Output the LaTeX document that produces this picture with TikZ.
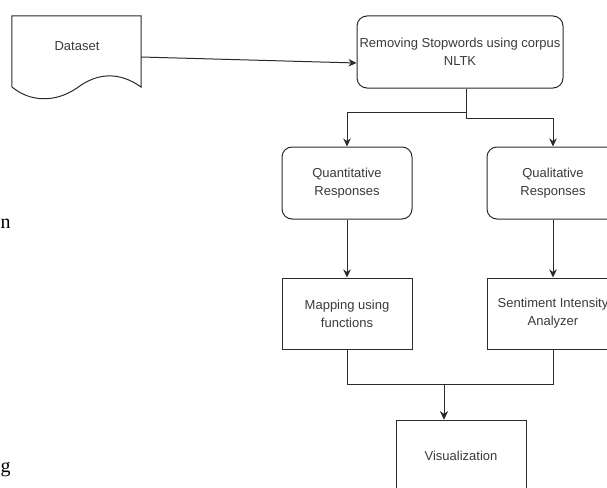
\documentclass[tikz,border=0pt]{standalone}
\usepackage{fontspec}
\setmainfont{Liberation Sans}
\newfontfamily\serifstray{Liberation Serif}
\usetikzlibrary{arrows.meta}
\definecolor{linec}{HTML}{2B2B2B}
\definecolor{textc}{HTML}{3A3A3A}
\tikzset{
  arr/.style={draw=linec, line width=1pt, -{Stealth[length=8pt,width=7.5pt,inset=2.5pt]}},
  conn/.style={draw=linec, line width=1pt},
  rbox/.style={draw=linec, line width=1pt, rounded corners=10pt, minimum width=130pt, minimum height=72pt, align=center, text=textc, font=\fontsize{13}{18}\selectfont, inner sep=0pt},
  sbox/.style={draw=linec, line width=1pt, minimum width=130pt, minimum height=71pt, align=center, text=textc, font=\fontsize{13}{18}\selectfont, inner sep=0pt},
  lbl/.style={text=textc, font=\fontsize{13}{18}\selectfont, inner sep=0pt},
  stray/.style={font=\serifstray\fontsize{20}{24}\selectfont, inner sep=0pt, text=black}
}
\begin{document}
\begin{tikzpicture}[x=1pt,y=-1pt]
\useasboundingbox (0,0) rectangle (607,487);
\clip (0,0) rectangle (607,487);
\fill[white] (0,0) rectangle (607,487);

% Dataset (document shape)
\node[minimum width=129pt, minimum height=82pt, inner sep=0pt] (data) at (76.5,57) {};
\draw[conn] (data.north west) -- (data.north east) -- (141,87)
  .. controls (120,72) and (98,72) .. (77,88)
  .. controls (55,103) and (30,102) .. (12,87) -- cycle;
\node[lbl] (datalbl) at (77,46) {Dataset};

% Removing stopwords
\node[rbox, minimum width=206pt] (rem) at (460,52) {Removing Stopwords using corpus\\NLTK};

% Responses
\node[rbox] (quant) at (347,183) {Quantitative\\Responses};
\node[rbox, minimum width=132pt] (qual) at (553,183) {Qualitative\\Responses};

% Processing
\node[sbox] (map) at (347,313.5) {Mapping using\\functions};
\node[sbox, minimum width=132pt] (sent) at (553,313.5) {Sentiment Intensity\\Analyzer};

% Visualization
\node[sbox, minimum height=72pt] (vis) at (461,456) {Visualization};

% connectors
\draw[arr] (data.east) -- ([yshift=-11pt]rem.west);
\draw[arr] ([xshift=6pt]rem.south) -- ++(0,24) -| (quant.north);
\draw[arr] ([xshift=6pt]rem.south) -- ++(0,30) -| (qual.north);
\draw[arr] (quant.south) -- (map.north);
\draw[arr] (qual.south) -- (sent.north);
\draw[arr] (map.south) -- ++(0,35) -| ([xshift=-17pt]vis.north);
\draw[arr] (sent.south) -- ++(0,35) -| ([xshift=-17pt]vis.north);

% fragments of neighbouring text
\node[stray, anchor=base west] (strayn) at (0.5,228) {n};
\node[stray, anchor=base west] (strayg) at (0.5,472) {g};
\end{tikzpicture}
\end{document}
